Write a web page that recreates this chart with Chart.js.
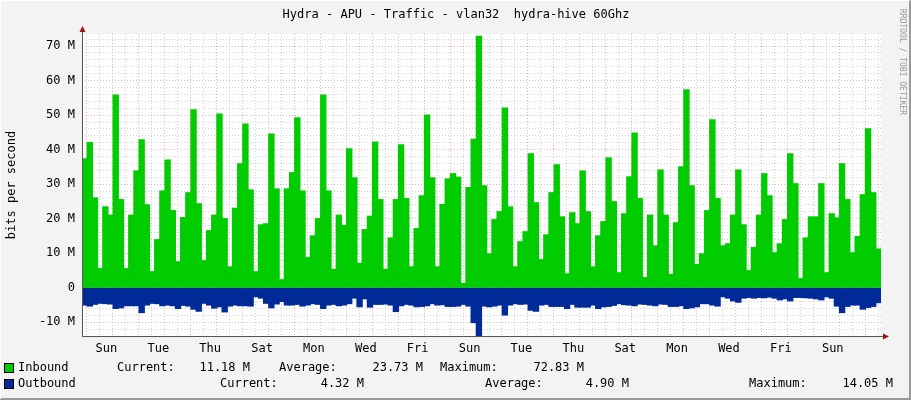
<!DOCTYPE html>
<html><head><meta charset="utf-8">
<script src="https://cdn.jsdelivr.net/npm/chart.js@4"></script>
<style>html,body{margin:0;padding:0;background:#f3f3f3}#wrap{width:911px;height:400px;position:relative}</style>
</head><body><div id="wrap"><canvas id="c" width="911" height="400"></canvas></div>
<script>
const title = "Hydra - APU - Traffic - vlan32  hydra-hive 60Ghz";
const dayNames = ["Sun","Mon","Tue","Wed","Thu","Fri","Sat"];
const hoursPerBar = 4.8;
const startHour = -10.56;
const inbound = [37.3,42,26,5.5,23.4,21,55.8,25.5,5.5,21,33.8,42.8,24,4.6,13.9,28,37,22.3,7.5,20.3,27.5,51.5,24.3,7.8,16.5,21,50.3,20,6,23,35.9,47.4,28.3,4.6,18.2,18.5,44.5,28.6,2.3,28.6,33.3,
49.2,28,8.7,15,20,55.8,28,5.3,21,18,40.2,31.8,7,16.8,20.7,42.2,25.5,5.3,14.4,25.5,41.4,25.8,6,17.1,26.6,50,31.8,6,24.1,31.5,33,32,1.2,29,43,72.83,29.5,9.8,
19.7,22,52,23.4,6,13.3,16.2,38.8,24.6,8.1,15.3,27.5,35.6,20.5,4,21.7,18.5,33.8,22,6,15,19.1,37.6,24.9,4.3,21.4,32.1,44.8,25.8,2.9,21,12.1,34.1,21,3.8,18.8,35,57.3,29.5,
6.7,9.8,22.3,48.6,25.8,12.1,12.7,21,34.1,18.2,4.9,11.6,21,33,26.6,10.1,12.7,19.7,38.8,30.1,2.6,14.4,20.5,20.5,30.1,4.3,21.4,20.2,35.9,25.5,10.1,14.8,26.9,46,27.5,11.18];
const outbound = [-5.0,-5.3,-4.8,-4.5,-4.6,-4.7,-6.0,-5.8,-5.2,-5.2,-5.2,-7.2,-5.0,-4.5,-4.6,-5.2,-5.0,-5.2,-6.0,-5.1,-5.3,-6.2,-6.8,-4.5,-5.0,-5.9,-5.5,-7.0,-5.3,-5.0,-5.2,-5.2,-5.3,-2.6,-3.0,-4.5,-5.8,-4.7,-4.0,-5.0,-5.0,
-4.8,-5.3,-5.0,-4.6,-4.8,-6.0,-5.0,-4.8,-5.2,-5.0,-4.6,-3.0,-5.5,-3.2,-5.6,-4.8,-4.8,-4.7,-5.0,-6.9,-5.2,-4.8,-5.0,-5.5,-5.4,-5.2,-4.6,-5.0,-4.9,-5.4,-5.4,-5.3,-4.8,-5.3,-10.1,-14.05,-5.3,-5.5,
-5.3,-5.0,-7.9,-5.0,-4.6,-4.8,-4.7,-6.5,-6.8,-5.0,-4.8,-5.4,-5.4,-5.4,-6.0,-4.8,-5.6,-5.6,-5.6,-5.0,-6.0,-5.5,-5.4,-5.1,-4.6,-4.9,-5.0,-5.2,-4.7,-4.8,-5.0,-5.2,-4.7,-4.8,-5.4,-5.4,-5.2,-6.0,-5.8,
-5.5,-4.6,-4.6,-5.0,-5.3,-2.6,-3.0,-3.8,-4.2,-3.0,-2.8,-3.0,-2.8,-2.9,-2.7,-3.0,-3.5,-3.2,-3.8,-2.8,-2.8,-2.9,-3.0,-3.2,-3.5,-2.6,-3.0,-5.3,-7.2,-5.4,-5.0,-5.0,-6.2,-5.7,-5.4,-4.32];
const legendRows = [
  {name:"Inbound", color:"#00CC00", items:[["Current:",117,"11.18 M",250],["Average:",279,"23.73 M",423],["Maximum:",440,"72.83 M",584]]},
  {name:"Outbound", color:"#002A97", items:[["Current:",220,"4.32 M",364],["Average:",485,"4.90 M",629],["Maximum:",749,"14.05 M",893]]}
];
const MONO = '"DejaVu Sans Mono", monospace';
const xs = inbound.map((_, i) => startHour + (i + 0.5) * hoursPerBar);
const xMax = startHour + inbound.length * hoursPerBar;

const deco = {
  id:'deco',
  beforeDraw(chart){
    const {ctx, chartArea:a} = chart;
    ctx.save();
    ctx.fillStyle='#f3f3f3'; ctx.fillRect(0,0,911,400);
    ctx.fillStyle='#ffffff'; ctx.fillRect(a.left,a.top,a.right-a.left,a.bottom-a.top);
    ctx.restore();
  },
  afterDraw(chart){
    const {ctx, chartArea:a} = chart;
    ctx.save();
    ctx.strokeStyle='#555'; ctx.lineWidth=1;
    ctx.beginPath(); ctx.moveTo(a.left+0.5,a.top-4); ctx.lineTo(a.left+0.5,a.bottom+0.5); ctx.lineTo(a.right+4,a.bottom+0.5); ctx.stroke();
    ctx.fillStyle='#a01010';
    ctx.beginPath(); ctx.moveTo(a.left-2.5,a.top-2); ctx.lineTo(a.left+3.5,a.top-2); ctx.lineTo(a.left+0.5,a.top-8); ctx.fill();
    ctx.beginPath(); ctx.moveTo(a.right+2,a.bottom-2.5); ctx.lineTo(a.right+2,a.bottom+3.5); ctx.lineTo(a.right+8,a.bottom+0.5); ctx.fill();
    ctx.fillStyle='#000'; ctx.font='12px '+MONO; ctx.textAlign='center'; ctx.textBaseline='middle';
    ctx.fillText(title, 456, 15);
    ctx.save(); ctx.translate(12,(a.top+a.bottom)/2); ctx.rotate(-Math.PI/2);
    ctx.font='12px '+MONO; ctx.fillText('bits per second',0,0); ctx.restore();
    ctx.save(); ctx.translate(902,62); ctx.rotate(Math.PI/2);
    ctx.fillStyle='#999'; ctx.font='8px '+MONO; ctx.fillText('RRDTOOL / TOBI OETIKER',0,0); ctx.restore();
    ctx.font='12px '+MONO; ctx.textBaseline='middle';
    legendRows.forEach((r,k)=>{
      const y = 368 + k*16;
      ctx.fillStyle=r.color; ctx.fillRect(5,y-4,8,8);
      ctx.strokeStyle='#000'; ctx.strokeRect(4.5,y-4.5,9,9);
      ctx.fillStyle='#000'; ctx.textAlign='left'; ctx.fillText(r.name,18,y);
      r.items.forEach(it=>{ ctx.textAlign='left'; ctx.fillText(it[0],it[1],y); ctx.textAlign='right'; ctx.fillText(it[2],it[3],y); });
    });
    ctx.strokeStyle='#999'; ctx.lineWidth=2;
    ctx.beginPath(); ctx.moveTo(910,0); ctx.lineTo(910,399); ctx.lineTo(0,399); ctx.stroke();
    ctx.strokeStyle='#fff'; ctx.lineWidth=1;
    ctx.beginPath(); ctx.moveTo(0.5,399); ctx.lineTo(0.5,0.5); ctx.lineTo(910,0.5); ctx.stroke();
    ctx.restore();
  }
};

new Chart(document.getElementById('c'), {
  type:'bar',
  data:{ datasets:[
    {label:'Inbound', data: xs.map((x,i)=>({x, y:inbound[i]})), backgroundColor:'#00CC00', borderWidth:0, barPercentage:1, categoryPercentage:1, inflateAmount:0.6},
    {label:'Outbound', data: xs.map((x,i)=>({x, y:outbound[i]})), backgroundColor:'#002A97', borderWidth:0, barPercentage:1, categoryPercentage:1, inflateAmount:0.6}
  ]},
  options:{
    responsive:false, animation:false,
    layout:{padding:{left:0,top:34,right:30,bottom:44}},
    plugins:{legend:{display:false}, tooltip:{enabled:false}},
    scales:{
      x:{ type:'linear', stacked:true, offset:false, min:startHour, max:xMax,
        afterFit(s){ s.height=20; },
        afterBuildTicks(s){ const t=[]; for(let v=0; v<=xMax; v+=12) t.push({value:v}); s.ticks=t; },
        grid:{ drawTicks:false, lineWidth:1, color:(c)=> (c.tick && c.tick.value%24===0) ? 'rgba(240,150,150,0.75)' : 'rgba(190,190,190,0.7)'},
        border:{display:false, dash:[1,2]},
        ticks:{ autoSkip:false, maxRotation:0, padding:6, color:'#000', font:{family:MONO,size:12},
          callback:(v)=> (v%48===12) ? dayNames[Math.floor(v/24)%7] : '' }
      },
      y:{ stacked:true, min:-14, max:73.5,
        afterFit(s){ s.width=82; },
        afterBuildTicks(s){ const t=[]; for(let v=-14; v<=72; v+=2) t.push({value:v}); s.ticks=t; },
        grid:{ drawTicks:false, color:(c)=> (c.tick && c.tick.value%10===0) ? 'rgba(240,150,150,0.75)' : 'rgba(190,190,190,0.7)'},
        border:{display:false, dash:[1,2]},
        ticks:{ autoSkip:false, padding:7, color:'#000', font:{family:MONO,size:12},
          callback:(v)=> v===0 ? '0' : (v%10===0 ? v+' M' : '') }
      }
    }
  },
  plugins:[deco]
});
</script></body></html>
